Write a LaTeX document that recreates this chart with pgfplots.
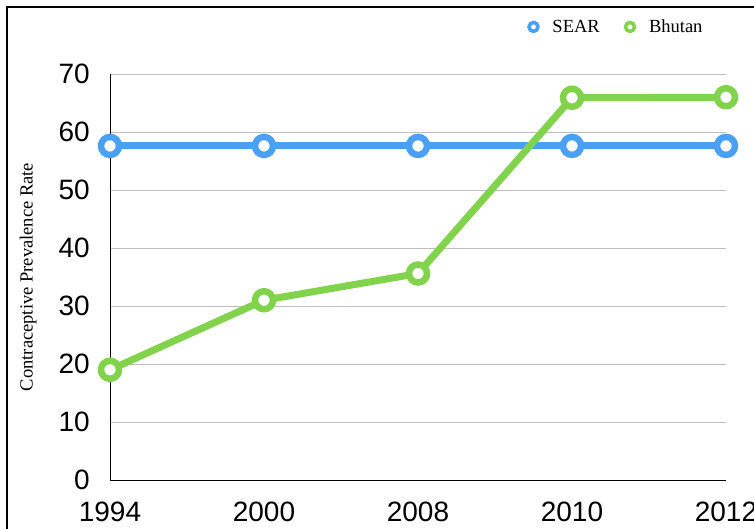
\documentclass[border=0pt]{standalone}
\usepackage{fontspec}
\setmainfont{Liberation Serif}
\newfontfamily\sansf{Liberation Sans}
\usepackage{pgfplots}
\pgfplotsset{compat=1.18}
\definecolor{sear}{RGB}{74,160,245}
\definecolor{bhu}{RGB}{128,211,75}
\begin{document}
\begin{tikzpicture}[x=1pt,y=1pt]
\useasboundingbox (0,0) rectangle (754,528);
\fill[white] (0,0) rectangle (754,528);
\draw[line width=2.2pt] (7,-20) -- (7,521) -- (780,521);
\begin{axis}[
  at={(110pt,48pt)}, anchor=south west, scale only axis,
  width=616pt, height=406pt,
  xmin=0, xmax=4, ymin=0, ymax=70,
  xtick={0,1,2,3,4}, xticklabels={1994,2000,2008,2010,2012},
  ytick={0,10,...,70},
  axis x line*=bottom, axis y line*=left,
  axis line style={line width=1pt},
  major tick length=0pt,
  ymajorgrids, grid style={black!25, line width=1pt},
  tick label style={font=\fontsize{28}{28}\sansf, inner sep=0pt},
  /pgf/number format/assume math mode=true,
  xticklabel style={anchor=north, yshift=-22pt},
  yticklabel style={anchor=east, xshift=-20pt},
  ylabel={Contraceptive Prevalence Rate},
  ylabel style={font=\fontsize{18.5}{18.5}\selectfont, at={(axis description cs:-0.133,0.5)}, anchor=center},
  legend columns=2,
  legend style={at={(axis description cs:0.677,1.116)}, anchor=west, draw=none, fill=none, inner sep=0pt,
    font=\fontsize{18.5}{18.5}\selectfont,
    /tikz/every even column/.append style={column sep=22pt}},
  legend image code/.code={\draw[#1, line width=3.5pt, fill=white] (0pt,0pt) circle (4.5pt);
    \path[draw=none, fill=none] (0pt,0pt) -- (17pt,0pt);},
  clip=false,
]
\addplot[sear, line width=7pt, mark=*, mark size=9pt, mark options={fill=white, line width=6.5pt}]
  coordinates {(0,57.6)(1,57.6)(2,57.6)(3,57.6)(4,57.6)};
\addlegendentry{SEAR}
\addplot[bhu, line width=7pt, mark=*, mark size=9pt, mark options={fill=white, line width=6.5pt}]
  coordinates {(0,19.0)(1,31.0)(2,35.6)(3,65.9)(4,66.0)};
\addlegendentry{Bhutan}
\end{axis}
\end{tikzpicture}
\end{document}
